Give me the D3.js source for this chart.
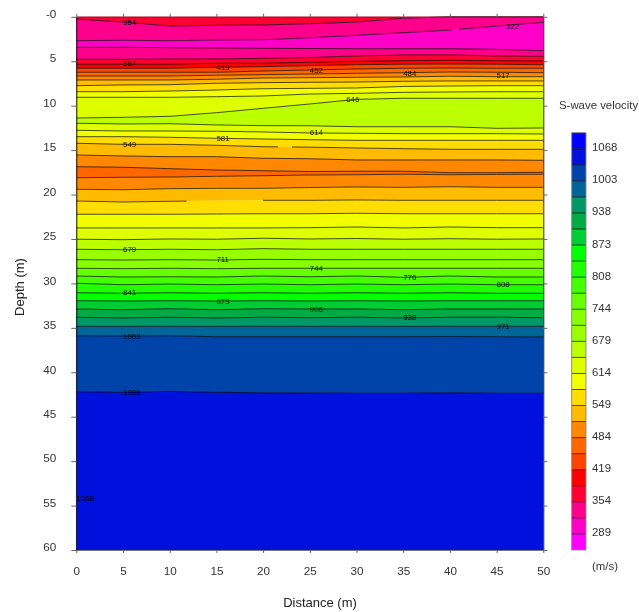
<!DOCTYPE html>
<html>
<head>
<meta charset="utf-8">
<script src="https://cdn.jsdelivr.net/npm/d3@7"></script>
<style>
    html, body { margin: 0; padding: 0; background: #fff; }
    svg { display: block; filter: blur(0.35px); font-family: "Liberation Sans", Arial, sans-serif; }
</style>
</head>
<body>
<div id="chart-area"></div>
<script>
// survey stations along the line (m)
var stations = [0, 5, 10, 15, 20, 25, 30, 35, 40, 45, 50];

// velocity class limits and the colour of each class, slowest first
var levels = [289, 322, 354, 387, 419, 452, 484, 517, 549, 581, 614, 646, 679,
              711, 744, 776, 808, 841, 873, 906, 938, 971, 1003, 1036, 1068];
var colors = ["#ff00ff", "#ff00c8", "#ff008c", "#ff0033", "#ff0000", "#ff4400", "#ff6600",
              "#ff8800", "#ffbb00", "#ffdd00", "#f2ff00", "#ddff00", "#bbff00", "#99ff00",
              "#88ff00", "#66ff00", "#44ff00", "#22ff00", "#00ff00", "#00cc33", "#00aa44",
              "#009966", "#006699", "#0044aa", "#0010dd", "#0000ff"];

// depth (m) of each contour at each station, top to bottom
var contourDepths = [
    [0.25, 0.59, 1.04, 0.96, 0.92, 0.78, 0.59, 0.16, 0, 0, 0],                      // 354
    [2.69, 2.64, 2.69, 2.61, 2.58, 2.35, 2.08, 1.79, 1.49, 1.04, 0.62],             // 322
    [3.43, 3.43, 3.48, 3.51, 3.54, 3.57, 3.59, 3.59, 3.59, 3.66, 3.81],             // 322
    [4.78, 4.78, 4.75, 4.75, 4.67, 4.58, 4.41, 4.30, 4.30, 4.41, 4.44],             // 354
    [5.34, 5.34, 5.34, 5.23, 5.23, 5.11, 5.01, 4.94, 4.89, 4.94, 4.97],             // 387
    [5.79, 5.79, 5.79, 5.68, 5.61, 5.50, 5.39, 5.34, 5.31, 5.34, 5.39],             // 419
    [6.24, 6.24, 6.24, 6.24, 6.10, 5.99, 5.87, 5.79, 5.76, 5.79, 5.79],             // 452
    [6.66, 6.66, 6.66, 6.58, 6.51, 6.44, 6.36, 6.29, 6.21, 6.24, 6.29],             // 484
    [7.11, 7.11, 7.11, 7.03, 6.89, 6.85, 6.81, 6.77, 6.69, 6.74, 6.74],             // 517
    [7.75, 7.67, 7.64, 7.48, 7.41, 7.37, 7.34, 7.26, 7.22, 7.22, 7.22],             // 549
    [8.43, 8.43, 8.35, 8.24, 8.09, 8.05, 8.01, 7.84, 7.79, 7.75, 7.75],             // 581
    [9.06, 9.06, 9.06, 8.99, 8.91, 8.69, 8.61, 8.50, 8.46, 8.43, 8.43],             // 614
    [11.39, 11.31, 11.20, 10.79, 10.30, 9.81, 9.29, 9.17, 9.17, 9.17, 9.17],        // 646
    [11.98, 12.06, 12.03, 12.17, 12.25, 12.26, 12.37, 12.37, 12.37, 12.55, 12.51],  // 646
    [12.77, 12.85, 12.85, 12.88, 12.96, 13.07, 13.11, 13.15, 13.15, 13.15, 13.19],  // 614
    [13.49, 13.49, 13.56, 13.67, 13.75, 13.83, 13.90, 13.90, 13.90, 13.90, 13.90],  // 581
    [14.23, 14.35, 14.35, 14.46, 14.62, 14.67, 14.76, 14.84, 14.91, 14.91, 14.91],  // 549
    [15.55, 15.66, 15.74, 15.74, 15.92, 15.97, 16.11, 16.11, 16.11, 16.11, 16.15],  // 517
    [16.87, 16.93, 17.09, 17.24, 17.32, 17.41, 17.38, 17.38, 17.54, 17.54, 17.50],  // 484
    [18.11, 18.06, 18.03, 17.95, 17.88, 17.80, 17.77, 17.72, 17.77, 17.74, 17.72],  // 484
    [19.41, 19.46, 19.34, 19.30, 19.30, 19.21, 19.15, 19.19, 19.12, 19.19, 19.19],  // 517
    [20.73, 20.84, 20.76, 20.69, 20.65, 20.65, 20.61, 20.65, 20.65, 20.65, 20.65],  // 549
    [22.22, 22.22, 22.22, 22.19, 22.16, 22.16, 22.11, 22.16, 22.16, 22.16, 22.16],  // 581
    [23.76, 23.76, 23.76, 23.76, 23.76, 23.73, 23.65, 23.76, 23.65, 23.73, 23.73],  // 614
    [25.03, 25.08, 25.00, 25.03, 24.92, 25.00, 24.95, 25.03, 24.97, 25.03, 25.00],  // 646
    [26.16, 26.21, 26.16, 26.21, 26.09, 26.16, 26.16, 26.16, 26.16, 26.16, 26.16],  // 679
    [27.33, 27.37, 27.33, 27.37, 27.29, 27.33, 27.33, 27.33, 27.33, 27.33, 27.33],  // 711
    [28.30, 28.34, 28.30, 28.34, 28.30, 28.30, 28.30, 28.30, 28.30, 28.30, 28.30],  // 744
    [29.17, 29.28, 29.25, 29.28, 29.17, 29.25, 29.17, 29.31, 29.17, 29.28, 29.28],  // 776
    [29.99, 30.15, 30.07, 30.15, 30.07, 30.15, 30.07, 30.15, 30.07, 30.15, 30.15],  // 808
    [31.05, 31.11, 31.05, 31.11, 31.05, 31.11, 31.05, 31.11, 31.05, 31.11, 31.11],  // 841
    [31.95, 31.98, 31.95, 31.98, 31.95, 31.98, 31.95, 31.98, 31.95, 31.95, 31.95],  // 873
    [32.88, 32.96, 32.85, 32.96, 32.85, 32.88, 32.88, 32.96, 32.88, 32.88, 32.88],  // 906
    [33.81, 33.89, 33.81, 33.89, 33.81, 33.86, 33.81, 33.89, 33.81, 33.81, 33.86],  // 938
    [34.83, 34.83, 34.83, 34.83, 34.83, 34.83, 34.83, 34.83, 34.83, 34.83, 34.83],  // 971
    [35.89, 35.92, 35.89, 36.00, 36.00, 36.00, 36.00, 36.00, 35.98, 36.00, 36.03],  // 1003
    [42.19, 42.26, 42.15, 42.26, 42.31, 42.34, 42.37, 42.37, 42.31, 42.37, 42.37]   // 1036
];

// stretches where a contour line is broken in the plot
var gapContours = [1, 16, 21];
var gapFrom     = [40.3, 21.6, 11.8];
var gapTo       = [41, 23.1, 20];

// a velocity inside each layer between two contours, top to bottom (one more than contours)
var layerVelocities = [370, 338, 305, 338, 370, 403, 435, 468, 500, 533, 565, 597, 630,
                       662, 630, 597, 565, 533, 500, 468, 500, 533, 565, 597, 630, 662,
                       695, 727, 760, 792, 824, 857, 889, 922, 954, 987, 1019, 1052];

// contour labels as drawn on the section
var labelValues   = [354, 322, 387, 419, 452, 484, 517, 646, 614, 581, 549, 679,
                     711, 744, 776, 808, 841, 873, 906, 938, 971, 1003, 1036, 1068];
var labelStations = [5, 46, 5, 15, 25, 35, 45, 28.9, 25, 15, 5, 5,
                     15, 25, 35, 45, 5, 15, 25, 35, 45, 5, 5, 0];
var labelDepths   = [0.66, 1.09, 5.25, 5.70, 6.04, 6.32, 6.58, 9.31, 13.04, 13.67, 14.37, 26.19,
                     27.31, 28.30, 29.25, 30.14, 30.96, 32.01, 32.86, 33.86, 34.79, 35.92, 42.22, 54.22];

var xTicks = [0, 5, 10, 15, 20, 25, 30, 35, 40, 45, 50];
var yTicks = [0, 5, 10, 15, 20, 25, 30, 35, 40, 45, 50, 55, 60];
var legendTicks = [289, 354, 419, 484, 549, 614, 679, 744, 808, 873, 938, 1003, 1068];

var svg = d3.select("#chart-area")
    .append("svg")
        .attr("width", 639)
        .attr("height", 612);

var x = d3.scaleLinear().domain([0, 50]).range([76.3, 543.3]);
var y = d3.scaleLinear().domain([0, 60]).range([16.8, 550]);

var color = d3.scaleThreshold().domain(levels).range(colors);

// layers: each one fills the space between two neighbouring contours
var topEdge = stations.map(function() { return 0; });
var bottomEdge = stations.map(function() { return 60; });
var edges = [topEdge].concat(contourDepths, [bottomEdge]);

var area = d3.area()
    .x(function(d) { return x(d.station); })
    .y0(function(d) { return y(d.upper); })
    .y1(function(d) { return y(d.lower); });

svg.append("g").selectAll("path")
    .data(layerVelocities)
    .enter()
    .append("path")
        .attr("d", function(v, i) {
            return area(stations.map(function(s, j) {
                return { station: s, upper: edges[i][j], lower: edges[i + 1][j] };
            }));
        })
        .attr("fill", function(v) { return color(v); })
        .attr("stroke", function(v) { return color(v); })
        .attr("stroke-width", 0.3);

var line = d3.line()
    .x(function(d, j) { return x(stations[j]); })
    .y(function(d) { return y(d); });

svg.append("g").selectAll("path")
    .data(contourDepths)
    .enter()
    .append("path")
        .attr("d", line)
        .attr("fill", "none")
        .attr("stroke", "#000")
        .attr("stroke-opacity", 0.68)
        .attr("stroke-width", 1)
        .attr("stroke-dasharray", function(d, i) {
            var g = gapContours.indexOf(i);
            if (g < 0) return null;
            return [x(gapFrom[g]) - x(0), x(gapTo[g]) - x(gapFrom[g]), 2000].join(" ");
        });

svg.append("g").selectAll("text")
    .data(labelValues)
    .enter()
    .append("text")
        .attr("x", function(d, i) { return x(labelStations[i]); })
        .attr("y", function(d, i) { return y(labelDepths[i]); })
        .attr("dy", "0.35em")
        .attr("font-size", "7.9px")
        .attr("fill", "#000")
        .attr("fill-opacity", 0.9)
        .text(function(d) { return d; });

// axes on all four sides, only the left and bottom carry text
var xAxisCall = d3.axisBottom(x)
    .tickValues(xTicks)
    .tickSizeInner(3)
    .tickSizeOuter(0)
    .tickPadding(14);

var yAxisCall = d3.axisLeft(y)
    .tickValues(yTicks)
    .tickSizeInner(5)
    .tickSizeOuter(0)
    .tickPadding(15)
    .tickFormat(function(d) { return d === 0 ? "-0" : d; });

var bottomAxis = svg.append("g")
    .attr("transform", "translate(0, 550)")
    .call(xAxisCall);

var leftAxis = svg.append("g")
    .attr("transform", "translate(76.3, 0)")
    .call(yAxisCall);

var topAxis = svg.append("g")
    .attr("transform", "translate(0, 16.8)")
    .call(d3.axisTop(x).tickValues(xTicks).tickSizeInner(3).tickSizeOuter(0).tickFormat(""));

var rightAxis = svg.append("g")
    .attr("transform", "translate(543.3, 0)")
    .call(d3.axisRight(y).tickValues(yTicks).tickSizeInner(4).tickSizeOuter(0).tickFormat(""));

[bottomAxis, leftAxis, topAxis, rightAxis].forEach(function(a) {
    a.selectAll(".tick line").attr("stroke", "#666");
    a.selectAll("text")
        .attr("font-size", "11.7px")
        .attr("fill", "#333");
});
leftAxis.select(".domain").attr("stroke", "#111");
rightAxis.select(".domain").attr("stroke", "#222");
topAxis.select(".domain").attr("stroke", "#444").attr("stroke-width", 1.2);
bottomAxis.select(".domain").attr("stroke", "#777");
leftAxis.selectAll("text").attr("y", -3).attr("dy", "0.32em");

svg.append("text")
    .attr("x", 320)
    .attr("y", 607)
    .attr("font-size", "13px")
    .attr("fill", "#222")
    .attr("text-anchor", "middle")
    .text("Distance (m)");

svg.append("text")
    .attr("x", -287)
    .attr("y", 24)
    .attr("font-size", "13px")
    .attr("fill", "#222")
    .attr("text-anchor", "middle")
    .attr("transform", "rotate(-90)")
    .text("Depth (m)");

// colour key: one box per class, stacked upwards
var legendY = d3.scaleBand()
    .domain(d3.range(colors.length))
    .range([550, 132.7]);

svg.append("g").selectAll("rect")
    .data(colors)
    .enter()
    .append("rect")
        .attr("x", 571.7)
        .attr("y", function(d, i) { return legendY(i); })
        .attr("width", 14.3)
        .attr("height", legendY.bandwidth())
        .attr("fill", function(d) { return d; });

svg.append("g").selectAll("line")
    .data(levels)
    .enter()
    .append("line")
        .attr("x1", 571.7)
        .attr("x2", 586)
        .attr("y1", function(d, i) { return legendY(i); })
        .attr("y2", function(d, i) { return legendY(i); })
        .attr("stroke", "#000")
        .attr("stroke-opacity", 0.68)
        .attr("stroke-width", 1);

svg.append("rect")
    .attr("x", 571.7)
    .attr("y", 132.7)
    .attr("width", 14.3)
    .attr("height", 417.3)
    .attr("fill", "none")
    .attr("stroke", "#888")
    .attr("stroke-width", 0.9);

svg.append("g").selectAll("text")
    .data(legendTicks)
    .enter()
    .append("text")
        .attr("x", 592)
        .attr("y", function(d) { return legendY(levels.indexOf(d)) - 1.5; })
        .attr("dy", "0.35em")
        .attr("font-size", "11.4px")
        .attr("fill", "#333")
        .text(function(d) { return d; });

svg.append("text")
    .attr("x", 559)
    .attr("y", 109)
    .attr("font-size", "11.4px")
    .attr("fill", "#333")
    .text("S-wave velocity");

svg.append("text")
    .attr("x", 592)
    .attr("y", 570)
    .attr("font-size", "11.4px")
    .attr("fill", "#333")
    .text("(m/s)");
</script>
</body>
</html>
